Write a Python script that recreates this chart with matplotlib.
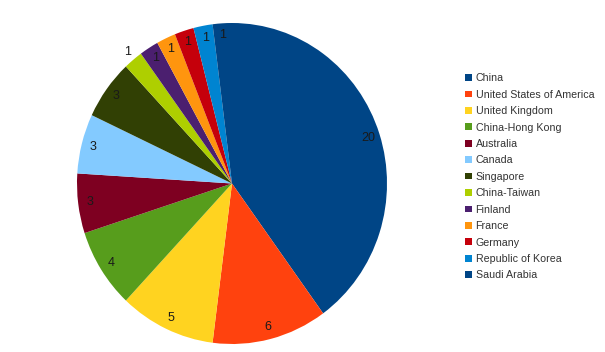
import matplotlib
matplotlib.use("Agg")
import matplotlib.pyplot as plt
import numpy as np

plt.rcParams['font.family'] = ['Liberation Sans', 'DejaVu Sans']

countries = ["China", "United States of America", "United Kingdom", "China-Hong Kong",
             "Australia", "Canada", "Singapore", "China-Taiwan", "Finland", "France",
             "Germany", "Republic of Korea", "Saudi Arabia"]
counts = [20, 6, 5, 4, 3, 3, 3, 1, 1, 1, 1, 1, 1]
colors = ["#004586", "#ff420e", "#ffd320", "#579d1c", "#7e0021", "#83caff", "#314004",
          "#aecf00", "#4b1f6f", "#ff950e", "#c5000b", "#0084d1", "#004586"]

W, H = 605, 352
fig = plt.figure(figsize=(W / 100, H / 100), dpi=100)
# pie bounding box in pixels (slightly taller than wide, like the original)
px0, px1, py0, py1 = 77, 387, 23, 344
ax = fig.add_axes([px0 / W, 1 - py1 / H, (px1 - px0) / W, (py1 - py0) / H])

wedges, _ = ax.pie(counts, colors=colors, startangle=90, counterclock=False,
                   wedgeprops=dict(linewidth=0))
ax.set_aspect('auto')
ax.set_xlim(-1, 1)
ax.set_ylim(-1, 1)

# value labels, inside near the rim; China-Taiwan sits just outside
for w, c, name in zip(wedges, counts, countries):
    mid = np.deg2rad((w.theta1 + w.theta2) / 2)
    d = 1.06 if name == "China-Taiwan" else 0.925
    ax.text(d * np.cos(mid), d * np.sin(mid), str(c), ha='center', va='center',
            fontsize=9, color='#1a1a1a')

fig.legend(wedges, countries, loc='upper left', bbox_to_anchor=(460 / W, 1 - 68 / H),
           frameon=False, fontsize=7.7, handlelength=0.6, handleheight=0.6,
           handletextpad=0.35, labelspacing=0.6, borderpad=0, labelcolor='#333333')

fig.savefig("out.png", dpi=100)
